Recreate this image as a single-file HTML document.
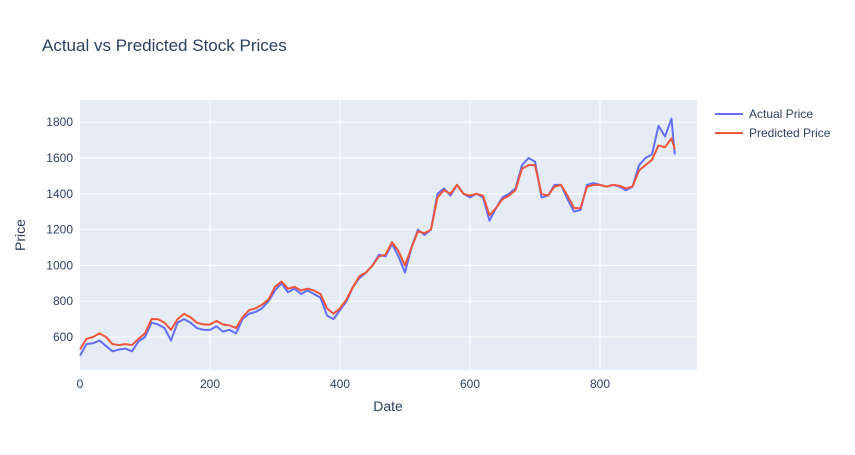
<!DOCTYPE html>
<html><head><meta charset="utf-8"><style>
body{margin:0;background:#fff;}
svg{font-family:"Liberation Sans",sans-serif;}
</style></head><body>
<svg id="chart" width="855" height="450">
<rect width="855" height="450" fill="#fff"/>
<text x="42" y="51" font-size="17" fill="#2a3f5f">Actual vs Predicted Stock Prices</text>
<rect x="80" y="100" width="617" height="270" fill="#E5ECF6"/>
<g id="grid"></g>
<g id="series"></g>
<text x="388" y="411" font-size="14" fill="#2a3f5f" text-anchor="middle">Date</text>
<text x="25" y="235" font-size="14" fill="#2a3f5f" text-anchor="middle" transform="rotate(-90 25 235)">Price</text>
<g>
<line x1="715" y1="114" x2="743" y2="114" stroke="#636efa" stroke-width="2"/>
<text x="749" y="118" font-size="12" fill="#2a3f5f">Actual Price</text>
<line x1="715" y1="133" x2="743" y2="133" stroke="#EF553B" stroke-width="2"/>
<text x="749" y="137" font-size="12" fill="#2a3f5f">Predicted Price</text>
</g>
</svg>
<script>
const dates=[0,10,20,30,40,50,60,70,80,90,100,110,120,130,140,150,160,170,180,190,200,210,220,230,240,250,260,270,280,290,300,310,320,330,340,350,360,370,380,390,400,410,420,430,440,450,460,470,480,490,500,510,520,530,540,550,560,570,580,590,600,610,620,630,640,650,660,670,680,690,700,710,720,730,740,750,760,770,780,790,800,810,820,830,840,850,860,870,880,890,900,910,915];
const actual=[495,560,565,580,550,520,530,535,520,575,600,680,670,650,580,680,700,680,650,640,640,660,630,640,620,700,730,740,760,800,860,900,850,870,840,860,840,820,720,700,750,800,880,930,960,1000,1060,1050,1120,1050,960,1100,1200,1170,1200,1400,1430,1390,1450,1400,1380,1400,1380,1250,1320,1380,1400,1430,1560,1600,1580,1380,1390,1450,1450,1370,1300,1310,1450,1460,1450,1440,1450,1440,1420,1440,1560,1600,1620,1780,1720,1820,1620];
const predicted=[530,590,600,620,600,560,555,560,555,590,620,700,700,680,640,700,730,710,680,670,670,690,670,665,650,710,750,760,780,810,880,910,870,880,860,870,860,840,760,730,760,810,880,940,960,1000,1050,1060,1130,1080,1000,1100,1190,1180,1200,1380,1420,1400,1450,1400,1390,1400,1390,1280,1320,1370,1390,1420,1540,1560,1560,1400,1390,1440,1450,1390,1320,1320,1440,1450,1450,1440,1450,1445,1430,1440,1530,1560,1590,1670,1660,1710,1650];
const xTicks=[0,200,400,600,800];
const yTicks=[600,800,1000,1200,1400,1600,1800];
const X=v=>80+v*0.65;
const Y=v=>337-(v-600)*0.179;
const NS="http://www.w3.org/2000/svg";
const g=document.getElementById('grid'),s=document.getElementById('series'),svg=document.getElementById('chart');
xTicks.forEach(t=>{
 if(t>0){const l=document.createElementNS(NS,'line');
 l.setAttribute('x1',X(t));l.setAttribute('x2',X(t));l.setAttribute('y1',100);l.setAttribute('y2',370);l.setAttribute('stroke','#fff');
 
 
 g.appendChild(l);}
 const tx=document.createElementNS(NS,'text');
 tx.setAttribute('x',X(t));tx.setAttribute('y',388);tx.setAttribute('font-size','12');tx.setAttribute('fill','#2a3f5f');tx.setAttribute('text-anchor','middle');tx.textContent=t;
 
 
 svg.appendChild(tx);
});
yTicks.forEach(t=>{
 const l=document.createElementNS(NS,'line');
 l.setAttribute('x1',80);l.setAttribute('x2',697);l.setAttribute('y1',Y(t));l.setAttribute('y2',Y(t));l.setAttribute('stroke','#fff');
 
 
 g.appendChild(l);
 const tx=document.createElementNS(NS,'text');
 tx.setAttribute('x',73);tx.setAttribute('y',Y(t)+4);tx.setAttribute('font-size','12');tx.setAttribute('fill','#2a3f5f');tx.setAttribute('text-anchor','end');tx.textContent=t;
 
 
 svg.appendChild(tx);
});
function line(vals,color,name){
 const p=document.createElementNS(NS,'polyline');
 p.setAttribute('points',vals.map((v,i)=>X(dates[i])+','+Y(v)).join(' '));
 p.setAttribute('fill','none');p.setAttribute('stroke',color);p.setAttribute('stroke-width','2');p.setAttribute('stroke-linejoin','round');
 
 
 s.appendChild(p);
}
line(actual,'#636efa','actual-price-line');
line(predicted,'#EF553B','predicted-price-line');
</script>
</body></html>
